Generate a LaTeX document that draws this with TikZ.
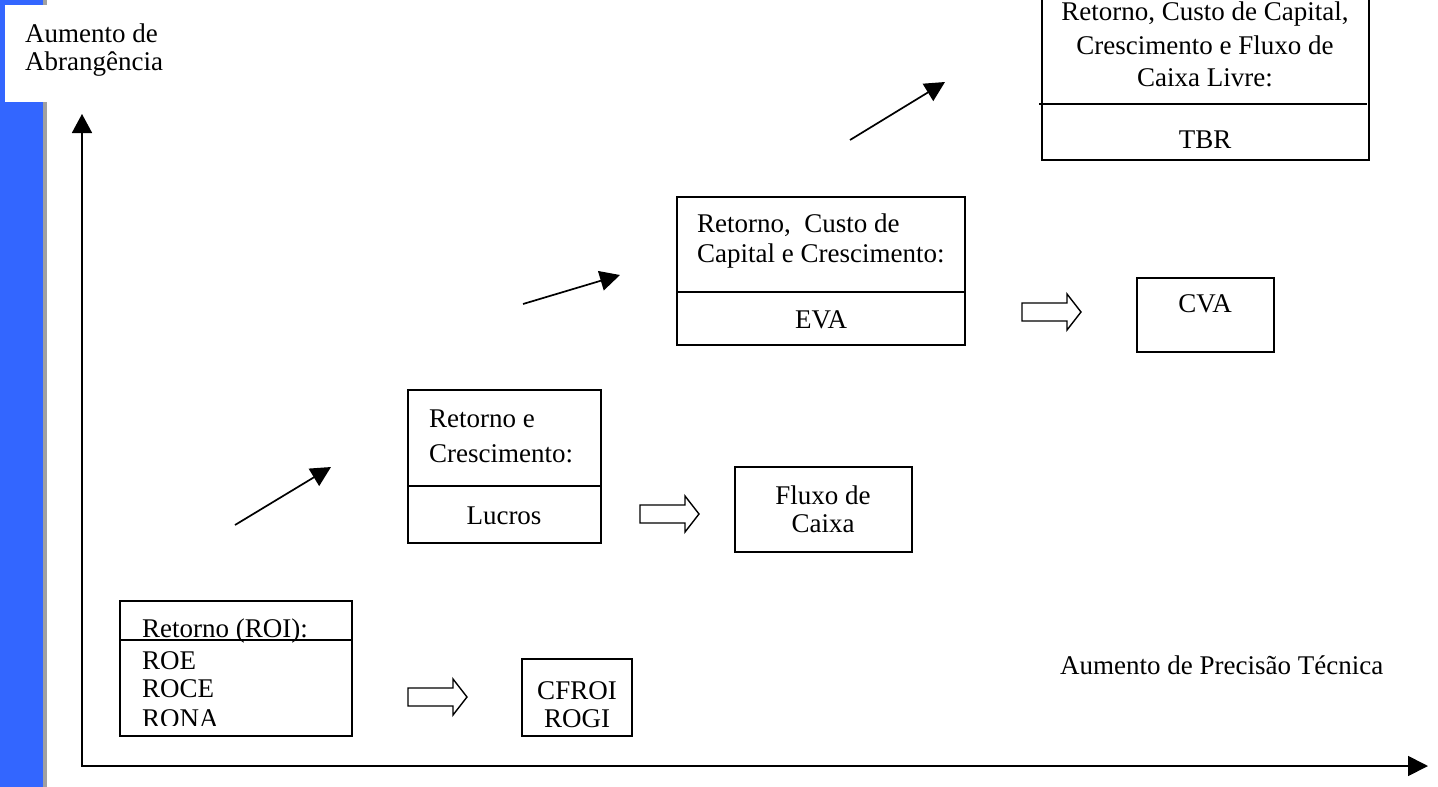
\documentclass[tikz,border=0pt]{standalone}
\usepackage{fontspec}
\setmainfont{Liberation Serif}
\usetikzlibrary{arrows.meta}
\definecolor{barblue}{HTML}{3366FF}
\definecolor{bargray}{HTML}{A0A0A0}
\tikzset{
	box/.style={draw, line width=1.7pt, inner sep=0pt, outer sep=0pt},
	txt/.style={inner sep=0pt, font=\fontsize{27}{32}\selectfont},
	axis/.style={line width=1.7pt, {Triangle[length=19pt,width=20pt]}-{Triangle[length=20pt,width=20pt]}},
	rise/.style={line width=1.7pt, -{Triangle[length=20pt,width=20pt]}},
	hollow/.style={line width=1.4pt}
}

\begin{document}
\begin{tikzpicture}[x=1pt, y=-1pt]
	\useasboundingbox (0,0) rectangle (1438,787);
	\clip (0,0) rectangle (1438,787);
	% side bar
	\fill[barblue] (0,0) rectangle (43,787);
	\fill[bargray] (43,0) rectangle (47,787);
	\fill[white] (5,5) rectangle (200,102);
	\node[txt, anchor=base west] (ya) at (25,42) {Aumento de};
	\node[txt, anchor=base west] (yb) at (25,70) {Abrangência};

	% axes
	\coordinate (ytip) at (82,114);
	\coordinate (origin) at (82,766);
	\coordinate (xtip) at (1428,766);
	\draw[axis] (ytip) -- (origin) -- (xtip);
	\node[txt, anchor=base west] (xlab) at (1060,674) {Aumento de Precisão Técnica};

	% boxes
	\node[box, minimum width=232pt, minimum height=135pt] (roi) at (236,668.5) {};
	\node[box, minimum width=110pt, minimum height=77pt] (cfroi) at (577,697.5) {};
	\node[box, minimum width=193pt, minimum height=153pt] (lucros) at (504.5,466.5) {};
	\node[box, minimum width=177pt, minimum height=85pt] (fluxo) at (823.5,509.5) {};
	\node[box, minimum width=288pt, minimum height=148pt] (eva) at (821,271) {};
	\node[box, minimum width=137pt, minimum height=74pt] (cva) at (1205.5,315) {};
	\node[box, minimum width=327pt, minimum height=180pt] (tbr) at (1205.5,70) {};
	\draw[line width=1.7pt] ([xshift=-1pt]roi.west |- 0,640) -- (roi.east |- 0,640);
	\draw[line width=1.7pt] (lucros.west |- 0,486) -- (lucros.east |- 0,486);
	\draw[line width=1.7pt] (eva.west |- 0,292) -- (eva.east |- 0,292);
	\draw[line width=1.7pt] ([xshift=-3pt]tbr.west |- 0,104) -- ([xshift=-2pt]tbr.east |- 0,104);

	% box texts
	\node[txt, anchor=base west] (roiA) at (142,637) {Retorno (ROI):};
	\node[txt, anchor=base west] (roiB) at (142,669) {ROE};
	\node[txt, anchor=base west] (roiC) at (142,697) {ROCE};
	\begin{scope}
		\clip (120,601) rectangle (352,725);
		\node[txt, anchor=base west] (roiD) at (142,727) {RONA};
	\end{scope}
	\node[txt, anchor=base] (cfroiA) at (577,699) {CFROI};
	\node[txt, anchor=base] (cfroiB) at (577,727) {ROGI};
	\node[txt, anchor=base west] (lucrosA) at (429,427) {Retorno e};
	\node[txt, anchor=base west] (lucrosB) at (429,462) {Crescimento:};
	\node[txt, anchor=base] (lucrosC) at (504,524) {Lucros};
	\node[txt, anchor=base] (fluxoA) at (823,504) {Fluxo de};
	\node[txt, anchor=base] (fluxoB) at (823,532) {Caixa};
	\node[txt, anchor=base west] (evaA) at (697,232) {Retorno,~ Custo de};
	\node[txt, anchor=base west] (evaB) at (697,262) {Capital e Crescimento:};
	\node[txt, anchor=base] (evaC) at (821,328) {EVA};
	\node[txt, anchor=base] (cvaA) at (1205,312) {CVA};
	\node[txt, anchor=base] (tbrA) at (1205,20) {Retorno, Custo de Capital,};
	\node[txt, anchor=base] (tbrB) at (1205,54) {Crescimento e Fluxo de};
	\node[txt, anchor=base] (tbrC) at (1205,86) {Caixa Livre:};
	\node[txt, anchor=base] (tbrD) at (1205,148) {TBR};

	% hollow arrows
	\foreach \x/\y in {408/697, 640/514, 1022/312}
		\draw[hollow, shift={(\x,\y)}] (0,-9) -- (45,-9) -- (45,-18) -- (59,0) -- (45,18) -- (45,9) -- (0,9) -- cycle;

	% rising arrows
	\coordinate (s1) at (235,525);
	\coordinate (t1) at (331,467);
	\coordinate (s2) at (523,304);
	\coordinate (t2) at (620,275);
	\coordinate (s3) at (850,140);
	\coordinate (t3) at (945,82);
	\draw[rise] (s1) -- (t1);
	\draw[rise] (s2) -- (t2);
	\draw[rise] (s3) -- (t3);
\end{tikzpicture}
\end{document}
